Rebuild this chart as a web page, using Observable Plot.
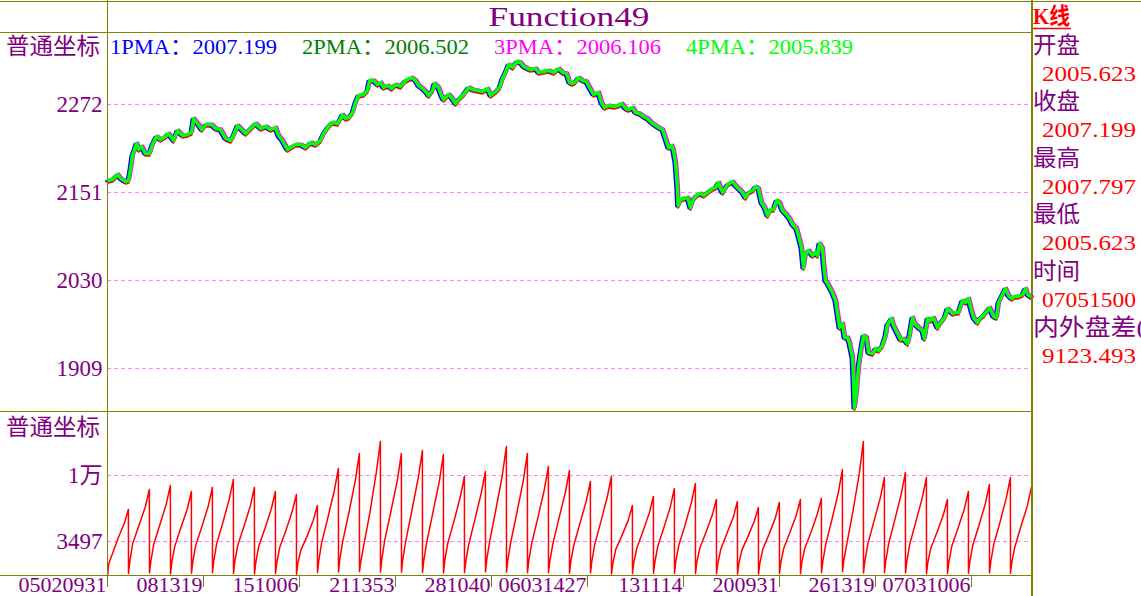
<!DOCTYPE html>
<html><head><meta charset="utf-8">
<script src="https://cdn.jsdelivr.net/npm/d3@7"></script>
<script src="https://cdn.jsdelivr.net/npm/@observablehq/plot@0.6"></script>
<style>
body{margin:0;background:#fff;}
#wrap{position:relative;width:1141px;height:596px;overflow:hidden;background:#fff;}
#main,#vol{position:absolute;left:0;}
#main{top:0;} #vol{top:412px;}
#deco{position:absolute;left:0;top:0;}
</style></head>
<body><div id="wrap"><div id="main"></div><div id="vol"></div>
<svg id="deco" width="1141" height="596"></svg></div>
<script>
// ---------- data ----------
const title = "Function49";
const axisName = "普通坐标";
const legendNames = ["1PMA", "2PMA", "3PMA", "4PMA"];
const legendValues = ["2007.199", "2006.502", "2006.106", "2005.839"];
const legendColors = ["#0000ff", "#008000", "#ff00ff", "#00ff00"];

const panelLabels = ["开盘", "收盘", "最高", "最低", "时间", "内外盘差("];
const panelValues = ["2005.623", "2007.199", "2007.797", "2005.623", "07051500", "9123.493"];

const mainTicks = [2272, 2151, 2030, 1909];
const volTicks = [3497, 10000];
const volTickLabels = ["3497", "1万"];
const xTickDays = [0, 4.571, 9.143, 13.714, 18.286, 22.857, 27.429, 32, 36.571, 41.143];
const xTickLabels = ["05020931", "081319", "151006", "211353", "281040", "06031427", "131114", "200931", "261319", "07031006"];

// price (trading day position, value)
const priceDay = [0.03,0.24,0.48,0.62,0.86,1.00,1.10,1.19,1.38,1.48,1.62,1.81,2.00,2.14,2.33,2.52,2.76,2.90,3.14,3.33,3.57,3.81,4.00,4.10,4.29,4.48,4.67,4.95,5.14,5.38,5.62,5.86,6.00,6.19,6.33,6.57,6.81,7.05,7.29,7.52,7.76,8.00,8.14,8.33,8.57,8.71,8.95,9.19,9.43,9.67,9.90,10.14,10.29,10.48,10.71,10.95,11.10,11.19,11.33,11.48,11.67,11.81,11.95,12.19,12.38,12.48,12.67,12.86,13.00,13.14,13.33,13.52,13.71,13.95,14.19,14.48,14.67,14.81,15.00,15.19,15.29,15.48,15.57,15.76,15.90,16.00,16.24,16.38,16.57,16.76,16.95,17.19,17.38,17.62,17.86,18.10,18.24,18.48,18.67,18.81,18.95,19.10,19.29,19.48,19.67,19.81,20.00,20.14,20.38,20.52,20.76,21.00,21.24,21.48,21.67,21.86,22.00,22.14,22.24,22.43,22.62,22.81,22.95,23.14,23.38,23.52,23.67,23.86,24.10,24.33,24.48,24.67,24.81,25.00,25.14,25.33,25.52,25.71,25.90,26.10,26.24,26.43,26.57,26.71,26.86,26.95,27.05,27.14,27.17,27.29,27.43,27.62,27.76,27.90,28.10,28.24,28.38,28.62,28.81,28.95,29.10,29.19,29.29,29.52,29.76,29.90,30.05,30.24,30.38,30.52,30.71,30.86,31.00,31.14,31.29,31.43,31.57,31.71,31.86,32.00,32.14,32.33,32.48,32.62,32.81,32.90,33.05,33.14,33.24,33.38,33.57,33.71,33.81,33.90,34.05,34.10,34.19,34.29,34.52,34.67,34.76,34.86,35.00,35.10,35.24,35.33,35.48,35.52,35.57,35.67,35.76,35.90,36.00,36.14,36.24,36.43,36.57,36.71,36.90,37.05,37.14,37.33,37.43,37.62,37.76,37.90,38.10,38.19,38.33,38.43,38.62,38.81,38.90,39.05,39.19,39.33,39.52,39.67,39.86,40.00,40.24,40.38,40.52,40.71,40.86,41.00,41.14,41.24,41.43,41.57,41.71,41.90,42.00,42.19,42.33,42.43,42.62,42.76,42.90,43.05,43.19,43.33,43.57,43.71,43.81,44.00];
const priceVal = [2167.5,2168.9,2175.8,2170.3,2166.1,2167.5,2184,2201.9,2218.4,2210.1,2214.3,2204.6,2204.6,2217,2228,2223.9,2228,2232.1,2222.5,2236.3,2229.4,2230.8,2233.5,2252.8,2245.9,2237.6,2244.5,2244.5,2239,2237.6,2225.3,2222.5,2229.4,2243.1,2239,2232.1,2239,2245.9,2239,2241.8,2237.6,2240.4,2229.4,2222.5,2210.1,2212.9,2217,2217,2212.9,2219.8,2217,2222.5,2232.1,2240.4,2247.3,2245.9,2252.8,2258.3,2252.8,2254.1,2261,2274.8,2284.4,2285.8,2291.3,2305,2305,2299.5,2302.3,2295.4,2298.1,2294,2299.5,2296.8,2305,2309.1,2305,2298.1,2294,2288.5,2284.4,2291.3,2300.9,2295.4,2284.4,2278.9,2285.8,2281.6,2273.4,2280.3,2285.8,2295.4,2292.6,2291.3,2289.9,2294,2284.4,2289.9,2295.4,2307.8,2316,2327,2322.9,2331.1,2329.8,2324.3,2321.5,2320.1,2321.5,2316,2317.4,2318.8,2316,2321.5,2316,2314.6,2302.3,2300.9,2302.3,2309.1,2305,2303.6,2295.4,2285.8,2288.5,2274.8,2267.9,2270.6,2269.3,2270.6,2273.4,2266.5,2265.1,2267.9,2261,2259.6,2255.5,2252.8,2247.3,2243.1,2240.4,2237.6,2225.3,2212.9,2215.6,2208.8,2192.3,2156.5,2133.1,2141.4,2142.8,2144.1,2130.4,2142.8,2148.3,2149.6,2146.9,2152.4,2156.5,2157.9,2164.8,2156.5,2151,2162,2166.1,2160.6,2156.5,2151,2144.1,2151,2153.8,2159.3,2156.5,2137.3,2130.4,2119.4,2127.6,2127.6,2140,2137.3,2126.3,2120.8,2115.3,2107,2101.5,2091.9,2075.4,2047.9,2067.1,2071.3,2064.4,2068.5,2064.4,2080.9,2074,2053.4,2030,2025.9,2013.5,2002.5,1984.6,1965.4,1970.9,1951.6,1951.6,1944.8,1924.1,1896.6,1855.4,1878.8,1910.4,1937.9,1954.4,1951.6,1931,1929.6,1936.5,1933.8,1940.6,1954.4,1969.5,1977.8,1968.1,1957.1,1948.9,1950.3,1943.4,1954.4,1979.1,1970.9,1965.4,1961.3,1950.3,1977.8,1975,1979.1,1965.4,1972.3,1979.1,1991.5,1984.6,1986,1986,2002.5,1999.8,2005.3,1988.8,1979.1,1972.3,1979.1,1981.9,1988.8,1992.9,1980.5,1979.1,1999.8,2010.8,2019,2009.4,2005.3,2008,2008,2010.8,2019,2010.8,2007.2];

// volume sawtooth per trading day: start, early, ~0.2 day, mid, ~0.8 day, end-of-day peak
const volStart = [150,350,400,300,380,420,350,300,320,280,450,500,520,480,470,460,400,420,500,480,430,420,380,400,300,330,360,380,320,310,290,300,320,330,430,520,400,420,400,320,350,380,400,370];
const volOpen = [1300,1500,1500,1400,1500,1600,1500,1400,1400,1300,1600,1700,1500,1700,1700,1600,1600,1500,1700,1600,1600,1500,1500,1500,1300,1400,1400,1500,1400,1300,1300,1300,1400,1400,1500,1600,1500,1600,1500,1400,1400,1500,1500,1400];
const volEarly = [2100,3300,3200,3000,3100,3300,3100,3000,2900,2600,3400,3500,3100,3600,3500,3400,3300,3200,3500,3400,3300,3200,3100,3200,2700,2800,3000,3100,2800,2700,2600,2700,2800,2800,3200,3200,3200,3300,3200,2800,3000,3100,3200,2900];
const volMid = [3800,5100,5200,4900,5000,5400,5000,4800,4600,4000,5900,6400,6400,6500,6600,6400,5500,5700,6700,6400,5900,5800,5300,5500,4100,4500,4900,5100,4400,4300,4000,4200,4400,4400,5700,6500,5500,5700,5500,4400,4800,5100,5400,5000];
const volLate = [5300,6900,7200,6700,7000,7700,7000,6700,6500,5600,8500,9500,10300,9500,9800,9400,7900,8300,10000,9500,8600,8300,7500,7900,5600,6300,6900,7300,6100,5900,5500,5800,6100,6200,8300,10200,7800,8200,7800,6100,6700,7200,7800,7000];
const volPeak = [6650,8620,9020,8420,8820,9610,8820,8420,8130,7040,10690,12170,13350,12170,12460,12070,9900,10390,12860,12170,10890,10490,9410,9900,7040,7930,8720,9210,7640,7440,6850,7340,7640,7730,10590,13350,9800,10300,9800,7640,8420,9110,9800,8820];

// ---------- tables ----------
const price = priceDay.map((d, i) => ({d, v: priceVal[i]}));
const vol = [];
volPeak.forEach((p, i) => {
  vol.push({d: i, v: volStart[i]});
  vol.push({d: i + 0.06, v: volOpen[i]});
  vol.push({d: i + 0.2, v: volEarly[i]});
  vol.push({d: i + 0.5, v: volMid[i]});
  vol.push({d: i + 0.8, v: volLate[i]});
  vol.push({d: i + 0.995, v: p});
});

const SERIF = "'Liberation Serif','Noto Sans CJK SC',serif";
const PURPLE = "#800080", OLIVE = "#808000", GRID = "#ff80ff";

const mainPlot = Plot.plot({
  width: 1141, height: 412,
  marginLeft: 107, marginRight: 110, marginTop: 32, marginBottom: 1,
  x: {domain: [0, 44], axis: null},
  y: {domain: [1850, 2371], axis: null},
  style: {background: "transparent", overflow: "visible", fontFamily: SERIF},
  marks: [
    Plot.ruleY(mainTicks, {stroke: GRID, strokeDasharray: "4,3"}),
    Plot.axisY(mainTicks, {anchor: "left", label: null, tickSize: 0, tickPadding: 5, color: PURPLE, fontSize: 23, fontFamily: SERIF, tickFormat: d => String(d)}),
    Plot.line(price, {x: "d", y: "v", stroke: "#008000", strokeWidth: 2.5, dx: 0.5}),
    Plot.line(price, {x: "d", y: "v", stroke: "#ff0000", strokeWidth: 2.5, dy: 2}),
    Plot.line(price, {x: "d", y: "v", stroke: "#0000ff", strokeWidth: 2.5, dx: -1.8, dy: 0.6}),
    Plot.line(price, {x: "d", y: "v", stroke: "#ff00ff", strokeWidth: 2.5, dx: 1.4, dy: -0.8}),
    Plot.line(price, {x: "d", y: "v", stroke: "#00ff00", strokeWidth: 3.5})
  ]
});
document.getElementById("main").append(mainPlot);

const volPlot = Plot.plot({
  width: 1141, height: 184,
  marginLeft: 107, marginRight: 110, marginTop: 0, marginBottom: 21,
  x: {domain: [0, 44], axis: null},
  y: {domain: [147, 16207], axis: null},
  style: {background: "transparent", overflow: "visible", fontFamily: SERIF},
  marks: [
    Plot.ruleY(volTicks, {stroke: GRID, strokeDasharray: "4,3"}),
    Plot.axisY(volTicks, {anchor: "left", label: null, tickSize: 0, tickPadding: 5, color: PURPLE, fontSize: 23, fontFamily: SERIF, tickFormat: d => volTickLabels[volTicks.indexOf(d)]}),
    Plot.line(vol, {x: "d", y: "v", stroke: "#ff0000", strokeWidth: 1.5}),
    Plot.axisX(xTickDays, {anchor: "bottom", label: null, tickSize: 12, color: OLIVE, strokeWidth: 1, tickFormat: () => ""}),
    Plot.axisX(xTickDays, {anchor: "bottom", label: null, tickSize: 0, tickPadding: 1, color: PURPLE, fontSize: 22, fontFamily: SERIF, textAnchor: "end", dx: -1, tickFormat: d => xTickLabels[xTickDays.indexOf(d)]})
  ]
});
document.getElementById("vol").append(volPlot);

// ---------- decoration: frame & texts ----------
const deco = d3.select("#deco");
const hl = (x1, x2, y, w = 1) => deco.append("line").attr("x1", x1).attr("x2", x2).attr("y1", y).attr("y2", y).attr("stroke", OLIVE).attr("stroke-width", w);
const vl = (x, y1, y2, w = 1) => deco.append("line").attr("x1", x).attr("x2", x).attr("y1", y1).attr("y2", y2).attr("stroke", OLIVE).attr("stroke-width", w);
hl(0, 1141, 1.5);
hl(0, 1032, 32.5);
hl(0, 1032, 411.5);
hl(0, 1032, 575.5);
vl(107.5, 0, 576);
vl(1032, 0, 596, 2);

function txt(s, x, y, color, size, opts = {}) {
  const t = deco.append("text").attr("x", x).attr("y", y).attr("fill", color)
    .attr("font-size", size).attr("font-family", SERIF)
    .attr("dominant-baseline", "central").text(s);
  if (opts.len) t.attr("textLength", opts.len).attr("lengthAdjust", "spacingAndGlyphs");
  if (opts.anchor) t.attr("text-anchor", opts.anchor);
  if (opts.weight) t.attr("font-weight", opts.weight);
  return t;
}
txt(title, 569, 17, PURPLE, 27, {anchor: "middle", len: 161});
txt(axisName, 6, 46, PURPLE, 23, {len: 94});
txt(axisName, 6, 427, PURPLE, 23, {len: 94});
legendNames.forEach((n, i) => {
  txt(n + "：" + legendValues[i], 110 + 192 * i, 46, legendColors[i], 22, {len: 167});
});
txt("K线", 1033, 16, "#ff0000", 23, {len: 37, weight: "bold"});
deco.append("line").attr("x1", 1033).attr("x2", 1071).attr("y1", 28.5).attr("y2", 28.5).attr("stroke", "#ff0000").attr("stroke-width", 1.5);
panelLabels.forEach((l, i) => {
  const y0 = 45 + 56.5 * i;
  txt(l, 1033, y0, PURPLE, 23, {len: l.length > 2 ? 112 : 47});
  txt(panelValues[i], 1042, y0 + 28, "#ff0000", 22, {len: 94});
});
</script></body></html>
